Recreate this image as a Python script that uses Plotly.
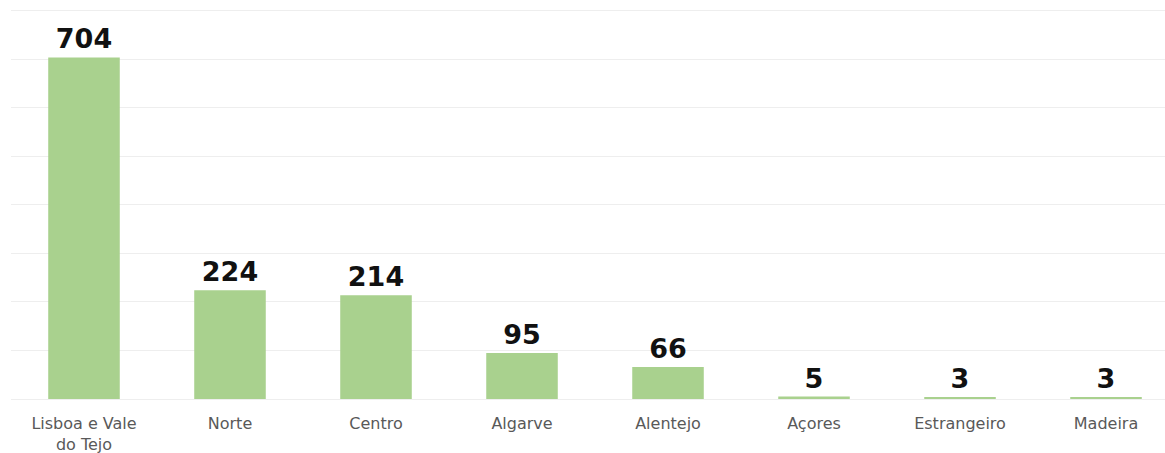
import plotly.graph_objects as go

categories = ["Lisboa e Vale do Tejo", "Norte", "Centro", "Algarve", "Alentejo",
              "Açores", "Estrangeiro", "Madeira"]
tick_labels = ["Lisboa e Vale<br>do Tejo", "Norte", "Centro", "Algarve", "Alentejo",
               "Açores", "Estrangeiro", "Madeira"]
values = [704, 224, 214, 95, 66, 5, 3, 3]

fig = go.Figure(go.Bar(
    x=list(range(len(categories))),
    y=values,
    width=0.49,
    marker=dict(color="#a9d18e", line=dict(width=0)),
    text=[str(v) for v in values],
    textposition="outside",
    cliponaxis=False,
    textfont=dict(family="DejaVu Sans", size=27, color="#111111", weight="bold"),
    hovertext=categories,
))

fig.update_layout(
    width=1165, height=453,
    margin=dict(l=11, r=0, t=6, b=54),
    paper_bgcolor="white", plot_bgcolor="white",
    showlegend=False,
    xaxis=dict(
        range=[-0.5, 7.404],
        tickmode="array",
        tickvals=list(range(len(categories))),
        ticktext=tick_labels,
        tickfont=dict(family="DejaVu Sans", size=16, color="#595959"),
        ticklabelstandoff=13,
        automargin=False,
        showgrid=False, zeroline=False, showline=False, ticks="",
    ),
    yaxis=dict(
        range=[0, 810],
        tickvals=[100, 200, 300, 400, 500, 600, 700, 800],
        showticklabels=False,
        showgrid=True, gridcolor="#eeeeee", gridwidth=1,
        zeroline=True, zerolinecolor="#eeeeee", zerolinewidth=1,
        showline=False, ticks="",
    ),
)

fig.write_html("out.html")
